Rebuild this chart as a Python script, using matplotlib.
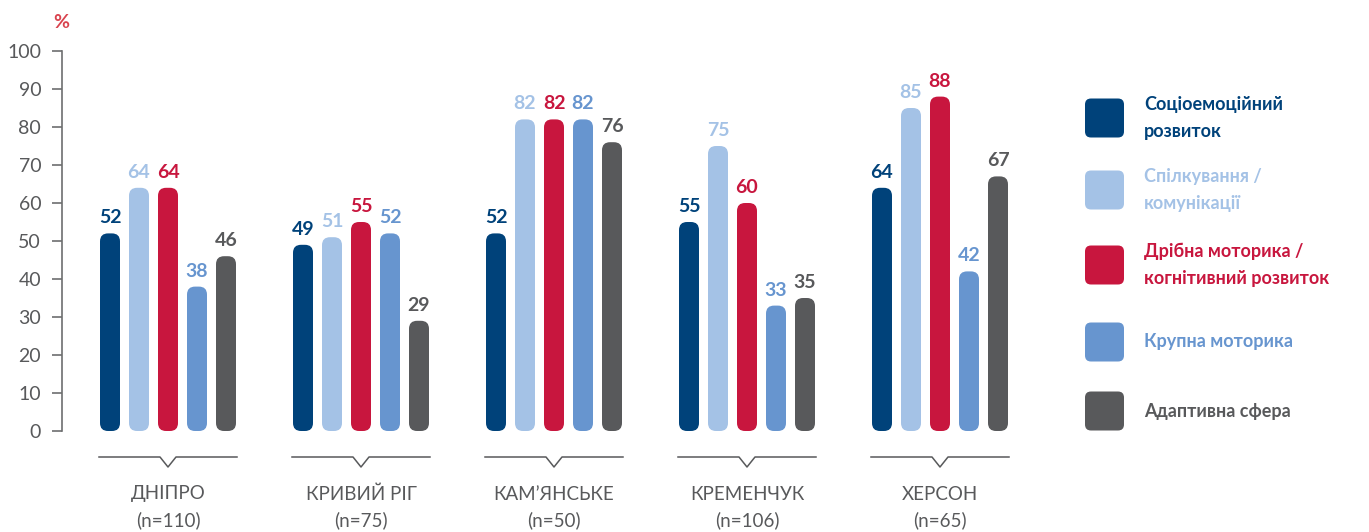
import matplotlib
matplotlib.use("Agg")
import matplotlib.pyplot as plt
from matplotlib.patches import FancyBboxPatch, Rectangle
from matplotlib.lines import Line2D
import numpy as np

plt.rcParams['font.family'] = ['Lato', 'DejaVu Sans']

cities = ["ДНІПРО", "КРИВИЙ РІГ", "КАМ’ЯНСЬКЕ", "КРЕМЕНЧУК", "ХЕРСОН"]
samples = ["(n=110)", "(n=75)", "(n=50)", "(n=106)", "(n=65)"]
series_names = ["Соціоемоційний\nрозвиток", "Спілкування /\nкомунікації",
                "Дрібна моторика /\nкогнітивний розвиток", "Крупна моторика",
                "Адаптивна сфера"]
socio = [52, 49, 52, 55, 64]
communication = [64, 51, 82, 75, 85]
fine_motor = [64, 55, 82, 60, 88]
gross_motor = [38, 52, 82, 33, 42]
adaptive = [46, 29, 76, 35, 67]
series = [socio, communication, fine_motor, gross_motor, adaptive]
colors = ["#00427A", "#A4C2E6", "#C8163E", "#6795CF", "#58595B"]
yticks = [0, 10, 20, 30, 40, 50, 60, 70, 80, 90, 100]

W, H = 1369, 532
fig = plt.figure(figsize=(W / 100, H / 100), dpi=100)
ax_left_px, ax_right_px = 62, 1040
ax_top_px, ax_bot_px = 51, 431
ax = fig.add_axes([ax_left_px / W, (H - ax_bot_px) / H,
                   (ax_right_px - ax_left_px) / W, (ax_bot_px - ax_top_px) / H])

group_px = 193.0
x0 = (ax_left_px - 168) / group_px
x1 = (ax_right_px - 168) / group_px
ax.set_xlim(x0, x1)
ax.set_ylim(0, 100)

xpp = (x1 - x0) / (ax_right_px - ax_left_px)   # x data per px
ypp = 100 / (ax_bot_px - ax_top_px)             # y data per px
aspect = ypp / xpp

n = len(series)
step = 29.0 / group_px
bw = 20.0 / group_px
x = np.arange(len(cities))
for i, (vals, c) in enumerate(zip(series, colors)):
    xs = x + (i - (n - 1) / 2) * step
    bars = ax.bar(xs, vals, width=bw, color=c)
    for b, v in zip(bars, vals):
        b.set_visible(False)
        bx, by = b.get_x(), b.get_y()
        p = FancyBboxPatch((bx, by), b.get_width(), b.get_height(),
                           boxstyle=f"round,pad=0,rounding_size={8 * xpp}",
                           mutation_aspect=aspect, facecolor=c, edgecolor='none')
        ax.add_patch(p)
        ax.annotate(str(v), (bx + b.get_width() / 2, v), xytext=(0, 5),
                    textcoords='offset points', ha='center', va='bottom',
                    fontsize=14, fontweight='bold', color=c)

# axis styling
for s in ['top', 'right', 'bottom']:
    ax.spines[s].set_visible(False)
ax.spines['left'].set_color('#6d6e70')
ax.spines['left'].set_linewidth(1.2)
ax.set_yticks(yticks)
ax.set_yticklabels([str(t) for t in yticks], fontsize=14, color='#58595B')
ax.tick_params(axis='y', length=7, width=1.2, color='#6d6e70', pad=8)
ax.set_xticks([])

# group brackets and labels
yb = -(457 - ax_bot_px) * ypp
yn = -(467 - ax_bot_px) * ypp
half = 69 * xpp
nh = 8 * xpp
for xi, city, smp in zip(x, cities, samples):
    ax.add_line(Line2D([xi - half, xi - nh, xi, xi + nh, xi + half],
                       [yb, yb, yn, yb, yb], color='#58595B', lw=1.1, clip_on=False))
    ax.text(xi, -(494 - ax_bot_px) * ypp, city, ha='center', va='center',
            fontsize=13.5, color='#58595B', clip_on=False)
    ax.text(xi, -(520 - ax_bot_px) * ypp, smp, ha='center', va='center',
            fontsize=13.5, color='#58595B', clip_on=False)

fig.text(61 / W, 1 - 22 / H, "%", ha='center', va='center', fontsize=14,
         fontweight='bold', color='#D9434E')

# legend
leg_y = [118, 190, 265, 342, 411]
for name, c, yc, wgt in zip(series_names, colors, leg_y,
                            ['bold', 'bold', 'bold', 'bold', 'bold']):
    fig.patches.append(FancyBboxPatch((1085 / W, 1 - (yc + 19.5) / H), 39 / W, 39 / H,
                                      boxstyle=f"round,pad=0,rounding_size={6 / W}",
                                      mutation_aspect=W / H,
                                      transform=fig.transFigure, facecolor=c,
                                      edgecolor='none'))
    fig.text(1144 / W, 1 - yc / H, name, ha='left', va='center', fontsize=13,
             fontweight=wgt, color=c, linespacing=1.75)

fig.savefig("out.png", dpi=100)
